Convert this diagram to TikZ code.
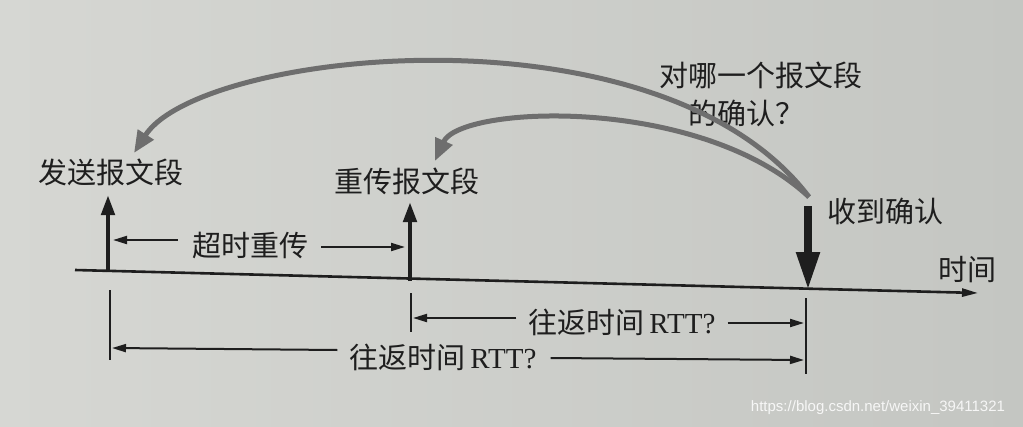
\documentclass[tikz,border=0pt]{standalone}
\usepackage{fontspec}
\setmainfont{Liberation Serif}
\setsansfont{Liberation Sans}
\newfontfamily\cjk{Noto Sans CJK SC}
\usetikzlibrary{arrows.meta}
\definecolor{ink}{HTML}{1E1E1E}
\definecolor{arcgray}{HTML}{6E6E6E}
\definecolor{bgL}{HTML}{D6D7D3}
\definecolor{bgR}{HTML}{C4C6C2}
\begin{document}
\begin{tikzpicture}[x=1pt,y=-1pt,
  lbl/.style={font=\fontsize{29}{34}\selectfont\cjk, text=ink, inner sep=0pt},
  axisline/.style={line width=2.6pt, draw=ink, -{Triangle[length=16pt,width=8pt]}},
  evt/.style={line width=4.5pt, draw=ink, -{Triangle[length=20pt,width=13pt]}},
  ackarrow/.style={line width=8pt, draw=ink, -{Triangle[length=38pt,width=22pt]}},
  ticklin/.style={line width=1.2pt, draw=ink},
  dim/.style={line width=2pt, draw=ink, -{Triangle[length=14pt,width=8pt]}},
  curvearrow/.style={line width=5pt, draw=arcgray, -{Triangle[length=22pt,width=18pt]}}
]
\shade[left color=bgL, right color=bgR] (0,0) rectangle (1023,426);
\useasboundingbox (0,0) rectangle (1023,426);

% time axis
\coordinate (ax0) at (75,270);
\coordinate (ax1) at (978,293);
\draw[axisline] (ax0) -- (ax1);

% events
\coordinate (s0) at (108,272);
\coordinate (s1) at (108,195);
\draw[evt] (s0) -- (s1);
\coordinate (r0) at (410,281);
\coordinate (r1) at (410,202);
\draw[evt] (r0) -- (r1);
\coordinate (k0) at (808,206);
\coordinate (k1) at (808,290);
\draw[ackarrow] (k0) -- (k1);

% labels
\node[lbl] (send) at (111,172) {发送报文段};
\node[lbl] (resend) at (407,181) {重传报文段};
\node[lbl] (ack) at (885,211) {收到确认};
\node[lbl] (time) at (967,270) {时间};
\node[lbl] (q1) at (761,75) {对哪一个报文段};
\node[lbl] (q2) at (746,113) {的确认？};

% curved arrows
\coordinate (c0) at (809,197);
\coordinate (sendtip) at (134,153);
\coordinate (resendtip) at (435,161);
\draw[curvearrow] (c0) .. controls (660,0) and (200,50) .. (sendtip);
\draw[curvearrow] (c0) .. controls (700,95) and (460,105) .. (resendtip);

% timeout
\node[lbl] (to) at (250,245) {超时重传};
\coordinate (toL) at (113,240);
\coordinate (toR) at (405,247);
\draw[dim] ([xshift=-14pt,yshift=5pt]to.west) -- (toL);
\draw[dim] ([xshift=13pt,yshift=-2pt]to.east) -- (toR);

% ticks
\coordinate (t1a) at (110,290); \coordinate (t1b) at (110,360);
\coordinate (t2a) at (411,293); \coordinate (t2b) at (411,332);
\coordinate (t3a) at (806,298); \coordinate (t3b) at (806,374);
\draw[ticklin] (t1a) -- (t1b);
\draw[ticklin] (t2a) -- (t2b);
\draw[ticklin] (t3a) -- (t3b);

% RTT labels
\node[lbl] (rtt1) at (622,322) {往返时间\,{\rmfamily RTT?}};
\coordinate (rtt1L) at (413,318);
\coordinate (rtt1R) at (804,323);
\draw[dim] ([xshift=-12pt,yshift=4pt]rtt1.west) -- (rtt1L);
\draw[dim] ([xshift=12pt,yshift=-1pt]rtt1.east) -- (rtt1R);

\node[lbl] (rtt2) at (443,357) {往返时间\,{\rmfamily RTT?}};
\coordinate (rtt2L) at (112,348);
\coordinate (rtt2R) at (804,360);
\draw[dim] ([xshift=-12pt,yshift=7pt]rtt2.west) -- (rtt2L);
\draw[dim] ([xshift=14pt,yshift=-1pt]rtt2.east) -- (rtt2R);

% watermark
\node[font=\sffamily\fontsize{15}{18}\selectfont, text=white, text opacity=0.85, inner sep=0pt] (wm) at (878,408) {https://blog.csdn.net/weixin\_39411321};
\end{tikzpicture}
\end{document}
